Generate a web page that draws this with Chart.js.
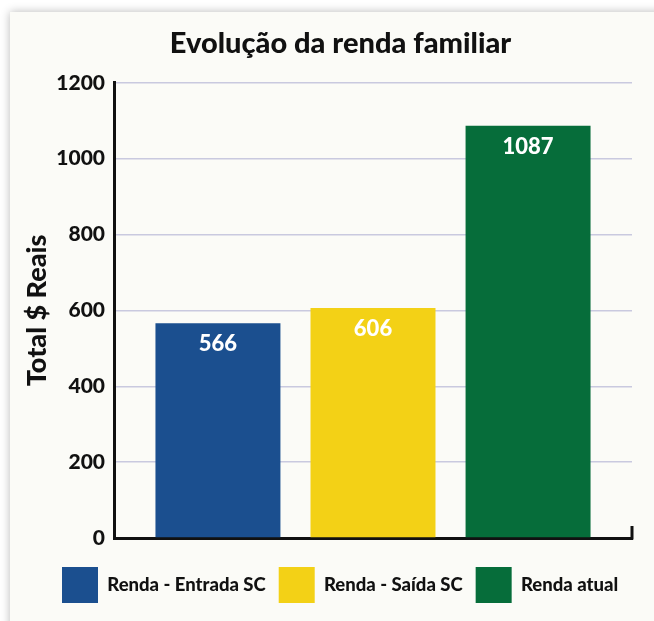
<!DOCTYPE html>
<html>
<head>
<meta charset="utf-8">
<script src="https://cdn.jsdelivr.net/npm/chart.js@4.4.1/dist/chart.umd.min.js"></script>
<style>
  body { margin: 0; background: #ffffff; overflow: hidden; }
  #card {
    position: absolute; left: 10px; top: 12px; width: 720px; height: 700px;
    background: #fbfbf7; box-shadow: 0 0 9px rgba(0, 0, 0, 0.28);
  }
  #chart { position: absolute; left: 0; top: 0; }
</style>
</head>
<body>
<div id="card"></div>
<canvas id="chart" width="654" height="621"></canvas>
<script>
const categories = [""]
const seriesNames = ["Renda - Entrada SC", "Renda - Saída SC", "Renda atual"]
const seriesValues = [566, 606, 1087]
const seriesColors = ["#1b4f8f", "#f3d116", "#066d3a"]
const yMin = 0
const yMax = 1200
const yStep = 200

const FONT = "Lato"
const INK = "#111111"

// white value labels just inside the top of each bar
const valueLabels = {
  id: "valueLabels",
  afterDatasetsDraw(chart) {
    const ctx = chart.ctx
    ctx.save()
    ctx.fillStyle = "#ffffff"
    ctx.font = "900 22px " + FONT
    ctx.textAlign = "center"
    ctx.textBaseline = "middle"
    chart.data.datasets.forEach((ds, i) => {
      chart.getDatasetMeta(i).data.forEach((bar, j) => {
        ctx.fillText(String(ds.data[j]), bar.x, bar.y + 21)
      })
    })
    ctx.restore()
  },
}

// small upright tick closing the x axis on the right
const axisEnd = {
  id: "axisEnd",
  afterDraw(chart) {
    const { ctx, chartArea } = chart
    ctx.save()
    ctx.strokeStyle = INK
    ctx.lineWidth = 3
    ctx.beginPath()
    ctx.moveTo(chartArea.right, chartArea.bottom - 12)
    ctx.lineTo(chartArea.right, chartArea.bottom + 1.5)
    ctx.stroke()
    ctx.restore()
  },
}

new Chart(document.getElementById("chart"), {
  type: "bar",
  data: {
    labels: categories,
    datasets: seriesNames.map((name, i) => ({
      label: name,
      data: [seriesValues[i]],
      backgroundColor: seriesColors[i],
      borderWidth: 0,
      categoryPercentage: 0.898,
      barPercentage: 0.806,
    })),
  },
  options: {
    responsive: false,
    animation: false,
    layout: { padding: { left: 49, right: 22, top: 0, bottom: 8 } },
    plugins: {
      title: {
        display: true,
        text: "Evolução da renda familiar",
        color: INK,
        font: { family: FONT, size: 29, weight: "900" },
        padding: { top: 26, bottom: 22 },
      },
      legend: {
        position: "bottom",
        align: "start",
        labels: {
          color: INK,
          font: { family: FONT, size: 18.5, weight: "900" },
          boxWidth: 36,
          boxHeight: 36,
          padding: 13,
        },
      },
      tooltip: { enabled: false },
    },
    scales: {
      x: {
        grid: { display: false },
        border: { display: true, color: INK, width: 3 },
        ticks: { display: false },
        afterFit: (s) => { s.height = 16 },
      },
      y: {
        min: yMin,
        max: yMax,
        ticks: {
          stepSize: yStep,
          color: INK,
          padding: 9,
          font: { family: FONT, size: 21, weight: "900" },
          callback: (v) => String(v),
        },
        grid: { color: "#c9c9df", lineWidth: 1.5, drawTicks: false },
        border: { color: INK, width: 3 },
        title: {
          display: true,
          text: "Total $ Reais",
          color: INK,
          font: { family: FONT, size: 27, weight: "900" },
          padding: { top: -28, bottom: 0 },
        },
        afterFit: (s) => { s.width = 65 },
      },
    },
  },
  plugins: [valueLabels, axisEnd],
})
</script>
</body>
</html>
